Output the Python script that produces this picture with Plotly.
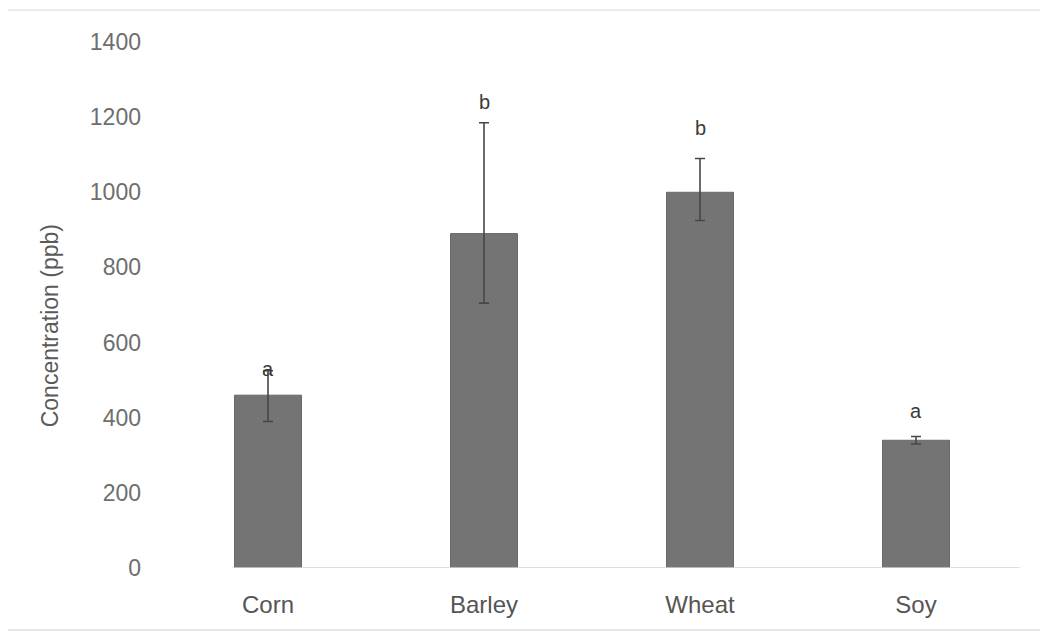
import plotly.graph_objects as go

categories = ["Corn", "Barley", "Wheat", "Soy"]
means = [460, 890, 1000, 340]
err_plus = [65, 295, 90, 10]
err_minus = [70, 185, 75, 10]
letters = ["a", "b", "b", "a"]
y_ticks = [0, 200, 400, 600, 800, 1000, 1200, 1400]
y_title = "Concentration (ppb)"

label_shift = [2, 21, 30, 26]
FONT = "Liberation Sans, Arial, sans-serif"

fig = go.Figure()
fig.add_trace(go.Bar(
    x=categories, y=means,
    marker=dict(color="#747474", line=dict(color="#686868", width=1)),
    error_y=dict(type="data", symmetric=False, array=err_plus, arrayminus=err_minus,
                 color="#474747", thickness=1.6, width=5),
    width=0.31,
))

for i, (c, m, e, t) in enumerate(zip(categories, means, err_plus, letters)):
    fig.add_annotation(x=c, y=m + e, text=t, showarrow=False, yanchor="middle",
                       yshift=label_shift[i],
                       font=dict(family=FONT, size=20, color="#3a3a3a"))

# y axis title (placed slightly below centre, as in the reference)
fig.add_annotation(xref="paper", yref="paper", x=-0.127, y=0.46, text=y_title,
                   textangle=-90, showarrow=False, xanchor="center", yanchor="middle",
                   font=dict(family=FONT, size=23, color="#5a5a5a"))

# faint scan frame lines
fig.add_shape(type="line", xref="paper", yref="paper", x0=-0.176, x1=1.02, y0=1.061, y1=1.061,
              line=dict(color="#ececec", width=2))
fig.add_shape(type="line", xref="paper", yref="paper", x0=-0.176, x1=1.02, y0=-0.118, y1=-0.118,
              line=dict(color="#e6e6e6", width=2))
# baseline
fig.add_shape(type="line", xref="paper", yref="y", x0=0.084, x1=0.995, y0=0, y1=0,
              line=dict(color="#d4d4d4", width=1.5))

fig.update_layout(
    width=1048, height=637,
    margin=dict(l=152, r=32, t=34, b=77),
    paper_bgcolor="white", plot_bgcolor="white",
    showlegend=False,
    font=dict(family=FONT, color="#555555"),
    xaxis=dict(showline=False, showgrid=False, ticks="",
               tickfont=dict(size=24, color="#555555"), ticklabelstandoff=20),
    yaxis=dict(range=[0, 1400], tickvals=y_ticks, showgrid=False, showline=False, zeroline=False,
               ticks="", tickfont=dict(size=23, color="#6e6e6e"), ticklabelstandoff=18),
)

fig.write_html("out.html")
